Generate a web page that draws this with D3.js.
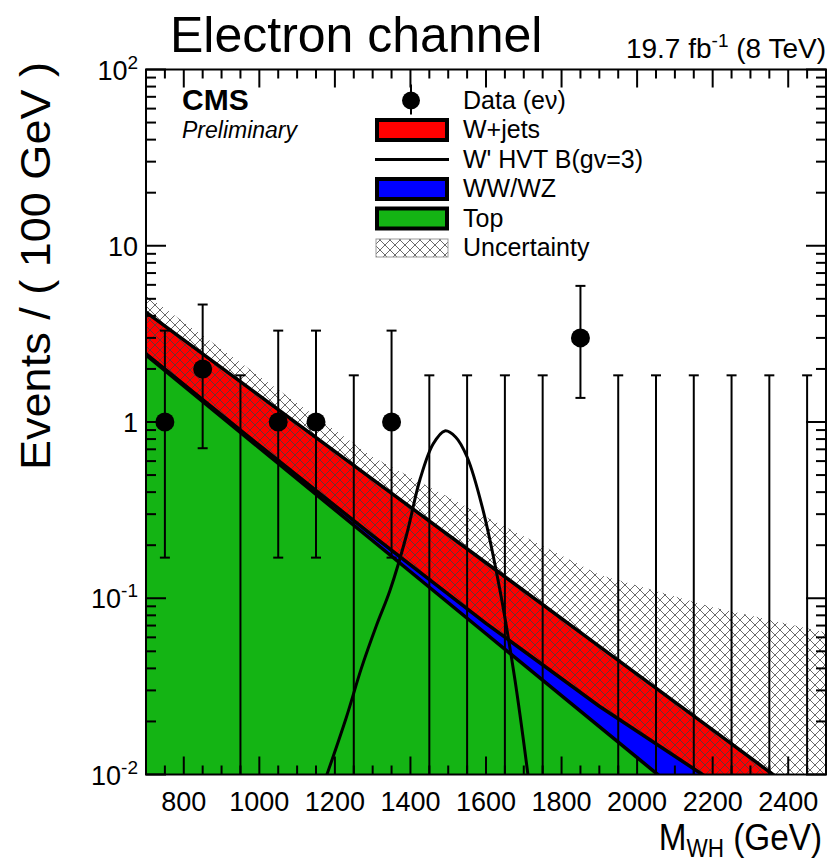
<!DOCTYPE html>
<html>
<head>
<meta charset="utf-8">
<script src="https://cdn.jsdelivr.net/npm/d3@7"></script>
<style>
  html, body { margin: 0; padding: 0; background: #fff; }
  svg { display: block; font-family: "Liberation Sans", Arial, Helvetica, sans-serif; }
</style>
</head>
<body>
<svg id="chart" width="830" height="865"></svg>
<script>
// ---- data ---------------------------------------------------------------
// observed events per 100 GeV bin (bin centres in GeV)
const binCenters = [750, 850, 950, 1050, 1150, 1250, 1350, 1450, 1550, 1650, 1750, 1850, 1950, 2050, 2150, 2250, 2350, 2450];
const dataCounts = [1, 2, 0, 1, 1, 0, 1, 0, 0, 0, 0, 3, 0, 0, 0, 0, 0, 0];
// Poisson (Garwood) 68% intervals for the observed counts
const errLow  = [0.83, 1.29, 0, 0.83, 0.83, 0, 0.83, 0, 0, 0, 0, 1.63, 0, 0, 0, 0, 0, 0];
const errHigh = [2.30, 2.64, 1.84, 2.30, 2.30, 1.84, 2.30, 1.84, 1.84, 1.84, 1.84, 2.92, 1.84, 1.84, 1.84, 1.84, 1.84, 1.84];

// background shapes, sampled in M_WH
const bkgMass   = [700, 1000, 1300, 1600, 1900, 2200, 2500];
const topBkg    = [2.40, 0.713, 0.212, 0.0629, 0.0187, 0.00555, 0.00165];
const dibosonBkg = [0.036, 0.023, 0.0145, 0.0091, 0.0057, 0.0036, 0.0023];
const wjetsBkg  = [1.77, 0.676, 0.2465, 0.087, 0.0289, 0.00875, 0.00205];
// background uncertainty envelope
const uncUpper  = [5.26, 1.82, 0.633, 0.289, 0.136, 0.089, 0.064];
const uncLower  = [2.44, 0.736, 0.2265, 0.072, 0.0244, 0.0092, 0.0040];

// W' signal shape
const sigMass = [1179, 1230, 1270, 1310, 1346, 1390, 1425, 1460, 1491, 1520, 1550, 1590, 1637, 1677, 1711];
const sigVals = [0.01, 0.021, 0.040, 0.070, 0.111, 0.23, 0.47, 0.75, 0.89, 0.82, 0.633, 0.33, 0.111, 0.034, 0.01];

const xTicks = [800, 1000, 1200, 1400, 1600, 1800, 2000, 2200, 2400];
const yTicks = [0.01, 0.1, 1, 10, 100];
const yTickLabels = [["10", "-2"], ["10", "-1"], ["1", ""], ["10", ""], ["10", "2"]];

const legendItems = [
  { label: "Data (e\u03bd)", kind: "marker" },
  { label: "W+jets", kind: "box", color: "#ff0000" },
  { label: "W' HVT B(gv=3)", kind: "line" },
  { label: "WW/WZ", kind: "box", color: "#0000ff" },
  { label: "Top", kind: "box", color: "#14b414" },
  { label: "Uncertainty", kind: "hatch" }
];

// ---- layout -------------------------------------------------------------
const svg = d3.select("#chart");
const L = 146, R = 826, T = 69.5, B = 774.5;
const x = d3.scaleLinear().domain([700, 2500]).range([L, R]);
const y = d3.scaleLog().domain([0.01, 100]).range([B, T]);

const defs = svg.append("defs");
defs.append("clipPath").attr("id", "plotclip")
  .append("rect").attr("x", L).attr("y", T).attr("width", R - L).attr("height", B - T);

// cross-hatch fill for the uncertainty band
const hatch = defs.append("pattern").attr("id", "xhatch")
  .attr("patternUnits", "userSpaceOnUse").attr("width", 10).attr("height", 10);
hatch.append("path").attr("d", "M0,0 L10,10 M10,0 L0,10 M-1,9 L1,11 M9,-1 L11,1 M-1,1 L1,-1 M9,11 L11,9")
  .attr("stroke", "#444").attr("stroke-width", 0.8).attr("fill", "none");

const plot = svg.append("g").attr("clip-path", "url(#plotclip)");

// ---- stacked backgrounds --------------------------------------------------
const rows = bkgMass.map((m, i) => ({ m, top: topBkg[i], vv: dibosonBkg[i], wj: wjetsBkg[i] }));
const stack = d3.stack().keys(["top", "vv", "wj"])(rows);
const colors = { top: "#14b414", vv: "#0000ff", wj: "#ff0000" };

const yPix = v => v <= 0 ? B + 10 : Math.min(y(v), B + 400);

const area = d3.area()
  .x(d => x(d.data.m))
  .y0(d => yPix(d[0]))
  .y1(d => yPix(d[1]));
const topLine = d3.line().x(d => x(d.data.m)).y(d => yPix(d[1]));

stack.forEach(layer => {
  plot.append("path").attr("d", area(layer)).attr("fill", colors[layer.key]).attr("stroke", "none");
});

// uncertainty band
const unc = bkgMass.map((m, i) => ({ m, lo: uncLower[i], hi: uncUpper[i] }));
plot.append("path")
  .attr("d", d3.area().x(d => x(d.m)).y0(d => yPix(d.lo)).y1(d => yPix(d.hi))(unc))
  .attr("fill", "url(#xhatch)");

stack.forEach(layer => {
  plot.append("path").attr("d", topLine(layer)).attr("fill", "none")
    .attr("stroke", "#000").attr("stroke-width", 3.5);
});

// ---- signal -------------------------------------------------------------
const sig = sigMass.map((m, i) => ({ m, v: sigVals[i] }));
plot.append("path")
  .attr("d", d3.line().x(d => x(d.m)).y(d => yPix(d.v)).curve(d3.curveCatmullRom)(sig))
  .attr("fill", "none").attr("stroke", "#000").attr("stroke-width", 3);

// ---- data ---------------------------------------------------------------
const pts = binCenters.map((m, i) => ({ m, n: dataCounts[i], lo: dataCounts[i] - errLow[i], hi: dataCounts[i] + errHigh[i] }));
const eb = plot.append("g").attr("stroke", "#000").attr("stroke-width", 2);
pts.forEach(p => {
  const xp = x(p.m);
  const y1 = y(p.hi);
  const y0 = p.n > 0 ? y(p.lo) : B;
  eb.append("line").attr("x1", xp).attr("x2", xp).attr("y1", y0).attr("y2", y1);
  eb.append("line").attr("x1", xp - 5).attr("x2", xp + 5).attr("y1", y1).attr("y2", y1);
  if (p.n > 0) eb.append("line").attr("x1", xp - 5).attr("x2", xp + 5).attr("y1", y0).attr("y2", y0);
});
plot.append("g").selectAll("circle").data(pts.filter(p => p.n > 0)).join("circle")
  .attr("cx", d => x(d.m)).attr("cy", d => y(d.n)).attr("r", 9.5).attr("fill", "#000");

// ---- frame & ticks --------------------------------------------------------
const axes = svg.append("g").attr("stroke", "#000").attr("stroke-width", 2).attr("fill", "none");
axes.append("rect").attr("x", L).attr("y", T).attr("width", R - L).attr("height", B - T);

const xMinor = d3.range(750, 2500, 50);
xMinor.forEach(m => {
  const major = xTicks.includes(m);
  const len = major ? 18 : 9;
  axes.append("line").attr("x1", x(m)).attr("x2", x(m)).attr("y1", B).attr("y2", B - len);
  axes.append("line").attr("x1", x(m)).attr("x2", x(m)).attr("y1", T).attr("y2", T + len);
});
const yMinor = [];
[0.01, 0.1, 1, 10].forEach(d => { for (let k = 2; k <= 9; k++) yMinor.push(d * k); });
yMinor.forEach(v => {
  axes.append("line").attr("x1", L).attr("x2", L + 10).attr("y1", y(v)).attr("y2", y(v));
  axes.append("line").attr("x1", R).attr("x2", R - 10).attr("y1", y(v)).attr("y2", y(v));
});
yTicks.forEach(v => {
  axes.append("line").attr("x1", L).attr("x2", L + 20).attr("y1", y(v)).attr("y2", y(v));
  axes.append("line").attr("x1", R).attr("x2", R - 20).attr("y1", y(v)).attr("y2", y(v));
});

// tick labels
svg.append("g").selectAll("text").data(xTicks).join("text")
  .attr("x", d => x(d)).attr("y", 811).attr("text-anchor", "middle")
  .attr("font-size", 27).text(d => d);

const yl = svg.append("g");
yTicks.forEach((v, i) => {
  const [base, ex] = yTickLabels[i];
  const t = yl.append("text").attr("x", 138).attr("y", y(v) + 10).attr("text-anchor", "end").attr("font-size", 27);
  t.append("tspan").text(base);
  if (ex) t.append("tspan").attr("dy", -11).attr("font-size", 19).text(ex);
});

// ---- titles -------------------------------------------------------------
svg.append("text").attr("x", 170).attr("y", 52).attr("font-size", 50).text("Electron channel");
const lumi = svg.append("text").attr("x", 826).attr("y", 58).attr("text-anchor", "end").attr("font-size", 28);
lumi.append("tspan").text("19.7 fb");
lumi.append("tspan").attr("dy", -11).attr("font-size", 19).text("-1");
lumi.append("tspan").attr("dy", 11).text(" (8 TeV)");

svg.append("text").attr("transform", "translate(50,470) rotate(-90)").attr("font-size", 42)
  .attr("textLength", 408).attr("lengthAdjust", "spacingAndGlyphs")
  .text("Events / ( 100 GeV )");

// axis title, slightly condensed horizontally
const xt = svg.append("text").attr("transform", "translate(822,850) scale(0.9,1)")
  .attr("text-anchor", "end").attr("font-size", 37);
xt.append("tspan").text("M");
xt.append("tspan").attr("dy", 7).attr("font-size", 25).text("WH");
xt.append("tspan").attr("dy", -7).text(" (GeV)");

svg.append("text").attr("x", 182).attr("y", 110).attr("font-size", 30).attr("font-weight", "bold").text("CMS");
svg.append("text").attr("x", 182).attr("y", 138).attr("font-size", 23).attr("font-style", "italic").text("Preliminary");

// ---- legend -------------------------------------------------------------
const leg = svg.append("g");
legendItems.forEach((it, i) => {
  const cy = 100.5 + i * 29.5;
  if (it.kind === "marker") {
    leg.append("circle").attr("cx", 411).attr("cy", cy).attr("r", 9).attr("fill", "#000");
    leg.append("line").attr("x1", 411).attr("x2", 411).attr("y1", cy - 16).attr("y2", cy + 14).attr("stroke", "#000").attr("stroke-width", 2);
  } else if (it.kind === "box") {
    leg.append("rect").attr("x", 377).attr("y", cy - 10).attr("width", 70).attr("height", 20)
      .attr("fill", it.color).attr("stroke", "#000").attr("stroke-width", 4);
  } else if (it.kind === "line") {
    leg.append("line").attr("x1", 375).attr("x2", 449).attr("y1", cy).attr("y2", cy).attr("stroke", "#000").attr("stroke-width", 3);
  } else {
    leg.append("rect").attr("x", 376).attr("y", cy - 9).attr("width", 72).attr("height", 18)
      .attr("fill", "url(#xhatch)").attr("stroke", "#999").attr("stroke-width", 1);
  }
  leg.append("text").attr("x", 463).attr("y", cy + 8).attr("font-size", 25).text(it.label);
});
</script>
</body>
</html>
